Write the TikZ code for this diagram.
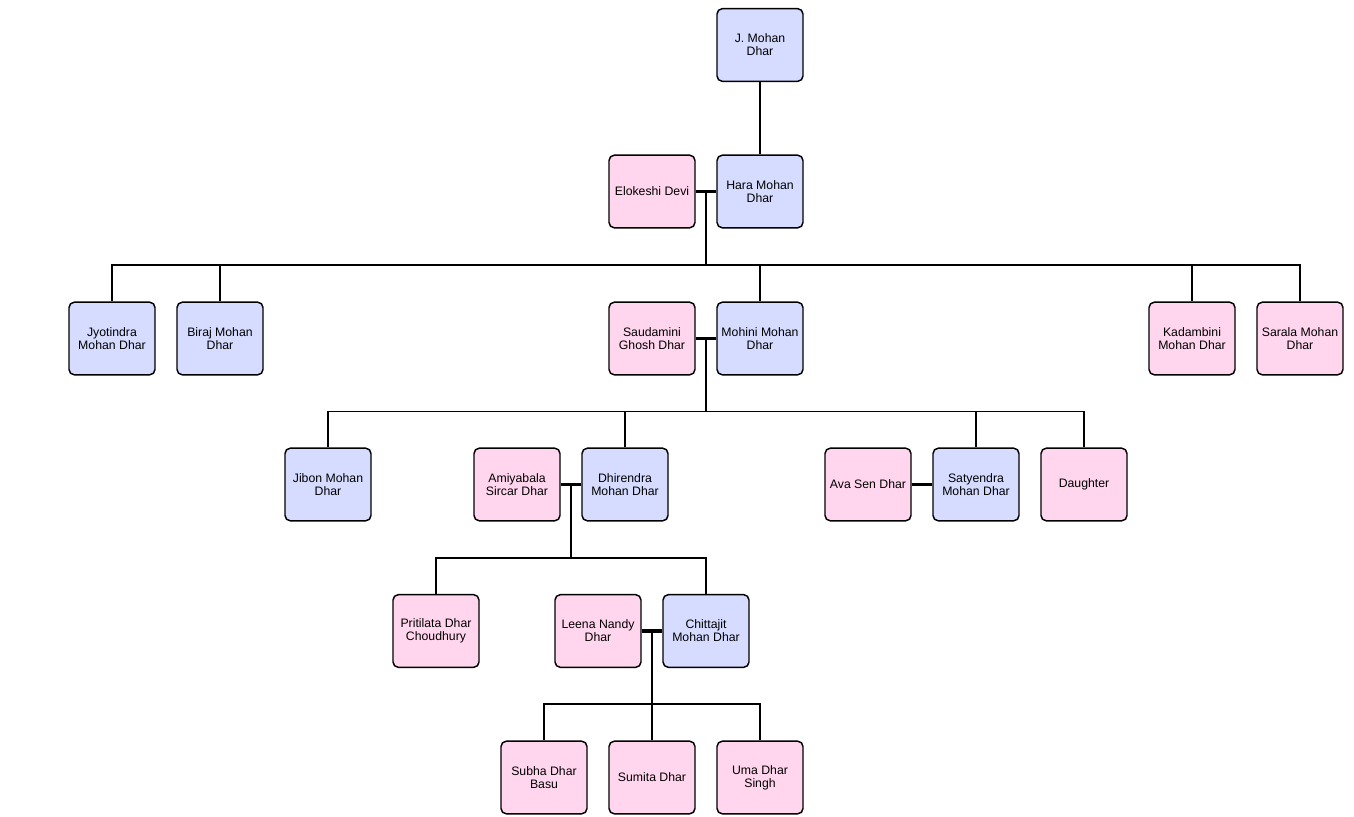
\documentclass[tikz,border=0pt]{standalone}
\usepackage{fontspec}
\setmainfont{Liberation Sans}
\usetikzlibrary{calc}

\definecolor{malefill}{RGB}{214,220,255}
\definecolor{femalefill}{RGB}{255,214,238}

\begin{document}
\begin{tikzpicture}[
		x=0.75pt, y=-0.75pt,
		font=\fontsize{9.2}{9.6}\selectfont,
		person/.style={draw=black, line width=1.1pt, rounded corners=4pt, align=center,
			minimum width=64.5pt, minimum height=54.5pt, inner sep=1pt},
		male/.style={person, fill=malefill},
		female/.style={person, fill=femalefill},
		link/.style={draw=black, line width=1.1pt},
		marriage/.style={draw=black, line width=2.4pt}
		]
		\useasboundingbox (0,0) rectangle (1354,817);
		
		% Generation 1
		\node[male] (jmohan) at (760,45) {J. Mohan\\Dhar};
		
		% Generation 2
		\node[female] (elokeshi) at (652,191.5) {Elokeshi Devi};
		\node[male] (hara) at (760,191.5) {Hara Mohan\\Dhar};
		
		% Generation 3
		\node[male] (jyotindra) at (112,338.5) {Jyotindra\\Mohan Dhar};
		\node[male] (biraj) at (220,338.5) {Biraj Mohan\\Dhar};
		\node[female] (saudamini) at (652,338.5) {Saudamini\\Ghosh Dhar};
		\node[male] (mohini) at (760,338.5) {Mohini Mohan\\Dhar};
		\node[female] (kadambini) at (1192,338.5) {Kadambini\\Mohan Dhar};
		\node[female] (sarala) at (1300,338.5) {Sarala Mohan\\Dhar};
		
		% Generation 4
		\node[male] (jibon) at (328,484.5) {Jibon Mohan\\Dhar};
		\node[female] (amiyabala) at (517,484.5) {Amiyabala\\Sircar Dhar};
		\node[male] (dhirendra) at (625,484.5) {Dhirendra\\Mohan Dhar};
		\node[female] (ava) at (868,484.5) {Ava Sen Dhar};
		\node[male] (satyendra) at (976,484.5) {Satyendra\\Mohan Dhar};
		\node[female] (daughter) at (1084,484.5) {Daughter};
		
		% Generation 5
		\node[female] (pritilata) at (436,631) {Pritilata Dhar\\Choudhury};
		\node[female] (leena) at (598,631) {Leena Nandy\\Dhar};
		\node[male] (chittajit) at (706,631) {Chittajit\\Mohan Dhar};
		
		% Generation 6
		\node[female] (subha) at (544,777.5) {Subha Dhar\\Basu};
		\node[female] (sumita) at (652,777.5) {Sumita Dhar};
		\node[female] (uma) at (760,777.5) {Uma Dhar\\Singh};
		
		% Parent line
		\draw[link] (jmohan.south) -- (hara.north);
		
		% Hara Mohan Dhar + Elokeshi Devi
		\draw[marriage] (elokeshi.east) -- (hara.west);
		\coordinate (m1) at ($(elokeshi.east)!0.5!(hara.west)$);
		\coordinate (b1) at ($(m1)+(0,73.5)$);
		\draw[link] (m1) -- (b1);
		\draw[link] (b1) -| (jyotindra.north);
		\draw[link] (b1) -| (biraj.north);
		\draw[link] (b1) -| (mohini.north);
		\draw[link] (b1) -| (kadambini.north);
		\draw[link] (b1) -| (sarala.north);
		
		% Mohini Mohan Dhar + Saudamini Ghosh Dhar
		\draw[marriage] (saudamini.east) -- (mohini.west);
		\coordinate (m2) at ($(saudamini.east)!0.5!(mohini.west)$);
		\coordinate (b2) at ($(m2)+(0,73)$);
		\draw[link] (m2) -- (b2);
		\draw[link] (b2) -| (jibon.north);
		\draw[link] (b2) -| (dhirendra.north);
		\draw[link] (b2) -| (satyendra.north);
		\draw[link] (b2) -| (daughter.north);
		
		% Dhirendra Mohan Dhar + Amiyabala Sircar Dhar
		\draw[marriage] (amiyabala.east) -- (dhirendra.west);
		\coordinate (m3) at ($(amiyabala.east)!0.5!(dhirendra.west)$);
		\coordinate (b3) at ($(m3)+(0,73.5)$);
		\draw[link] (m3) -- (b3);
		\draw[link] (b3) -| (pritilata.north);
		\draw[link] (b3) -| (chittajit.north);
		
		% Satyendra Mohan Dhar + Ava Sen Dhar
		\draw[marriage] (ava.east) -- (satyendra.west);
		
		% Chittajit Mohan Dhar + Leena Nandy Dhar
		\draw[marriage] (leena.east) -- (chittajit.west);
		\coordinate (m4) at ($(leena.east)!0.5!(chittajit.west)$);
		\coordinate (b4) at ($(m4)+(0,73)$);
		\draw[link] (m4) -- (b4);
		\draw[link] (b4) -| (subha.north);
		\draw[link] (b4) -| (sumita.north);
		\draw[link] (b4) -| (uma.north);
		
	\end{tikzpicture}
\end{document}
